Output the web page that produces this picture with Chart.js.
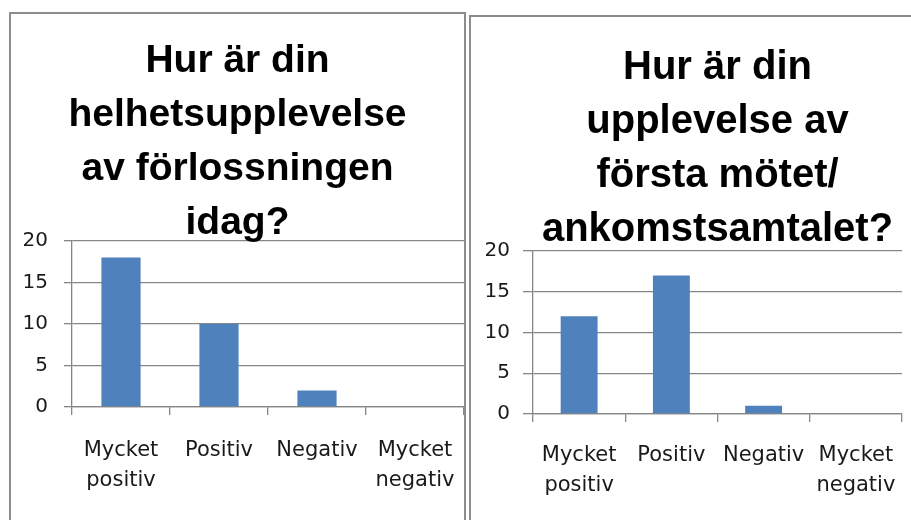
<!DOCTYPE html>
<html>
<head>
<meta charset="utf-8">
<script src="https://cdn.jsdelivr.net/npm/chart.js@4.4.1/dist/chart.umd.min.js"></script>
<style>
  body { margin: 0; background: #ffffff; overflow: hidden; width: 911px; height: 520px; position: relative; }
  .panel { position: absolute; border: 2px solid #8c8c8c; box-sizing: border-box; background: #ffffff; }
  #panel-left { left: 9px; top: 12px; width: 457px; height: 530px; }
  #panel-right { left: 469px; top: 15px; width: 500px; height: 530px; }
  canvas { position: absolute; left: 0; top: 0; }
</style>
</head>
<body>
<div class="panel" id="panel-left"><canvas id="chartLeft" width="453" height="506"></canvas></div>
<div class="panel" id="panel-right"><canvas id="chartRight" width="440" height="503"></canvas></div>
<script>
// Answer categories (shared by both charts)
const categories = [["Mycket", "positiv"], "Positiv", "Negativ", ["Mycket", "negativ"]];

// Number of answers, overall experience of the delivery
const overallValues = [18, 10, 2, 0];

// Number of answers, first meeting / arrival talk
const firstMeetingValues = [12, 17, 1, 0];

// Chart titles
const overallTitle = ["Hur är din", "helhetsupplevelse", "av förlossningen", "idag?"];
const firstMeetingTitle = ["Hur är din", "upplevelse av", "första mötet/", "ankomstsamtalet?"];

// Y axis range and step
const yMax = 20;
const yStep = 5;

// Shared colors
const barColor = "#4f81bd";
const gridColor = "#868686";
const textColor = "#1a1a1a";

/**
 * Builds one bar chart
 * @param {String} canvasId   id of the canvas element
 * @param {Array}  values     bar values
 * @param {Array}  title      title lines
 * @param {Object} box        layout numbers for this panel
 */
function makeChart(canvasId, values, title, box) {
  const ctx = document.getElementById(canvasId).getContext("2d");
  return new Chart(ctx, {
    type: "bar",
    data: {
      labels: categories,
      datasets: [
        {
          label: "",
          data: values,
          backgroundColor: barColor,
          borderWidth: 0,
          barPercentage: 0.4,
          categoryPercentage: 1,
        },
      ],
    },
    options: {
      responsive: false,
      animation: false,
      devicePixelRatio: 1,
      layout: {
        padding: { left: 0, right: box.padRight, top: 0, bottom: 0 },
      },
      plugins: {
        legend: { display: false },
        tooltip: { enabled: false },
        title: {
          display: true,
          text: title,
          color: "#000000",
          fullSize: box.titleFull,
          font: { family: "'Liberation Sans', Arial, sans-serif", size: box.titleSize, weight: "bold", lineHeight: 54 / box.titleSize },
          padding: { top: box.titleTop, bottom: box.titleBottom },
        },
      },
      scales: {
        x: {
          grid: {
            display: true,
            drawOnChartArea: false,
            drawTicks: true,
            tickLength: 8,
            color: gridColor,
            lineWidth: 1.3,
          },
          border: { display: true, color: gridColor, width: 1.3 },
          ticks: {
            color: textColor,
            padding: box.xPad,
            maxRotation: 0,
            autoSkip: false,
            font: { family: "'DejaVu Sans', sans-serif", size: 21, lineHeight: 30 / 21 },
          },
          afterFit: (scale) => {
            // Fixed height, and no extra side room for the outer labels
            scale.height = box.xHeight;
            scale.paddingLeft = 0;
            scale.paddingRight = 0;
          },
        },
        y: {
          min: 0,
          max: yMax,
          grid: {
            color: gridColor,
            lineWidth: 1.3,
            tickLength: box.yTick,
          },
          border: { display: true, color: gridColor, width: 1.3 },
          ticks: {
            stepSize: yStep,
            color: textColor,
            padding: box.yPad,
            font: { family: "'DejaVu Sans', sans-serif", size: 20 },
          },
          afterFit: (scale) => {
            scale.width = box.yWidth;
          },
        },
      },
    },
  });
}

// Left chart
makeChart("chartLeft", overallValues, overallTitle, {
  padRight: 0,
  titleFull: true,
  titleSize: 39,
  titleTop: 20,
  titleBottom: -9,
  xPad: 21,
  xHeight: 113,
  yTick: 8,
  yPad: 16,
  yWidth: 61,
});

// Right chart
makeChart("chartRight", firstMeetingValues, firstMeetingTitle, {
  padRight: 9,
  titleFull: false,
  titleSize: 40,
  titleTop: 24,
  titleBottom: -6,
  xPad: 19,
  xHeight: 106,
  yTick: 10,
  yPad: 13,
  yWidth: 62,
});
</script>
</body>
</html>
